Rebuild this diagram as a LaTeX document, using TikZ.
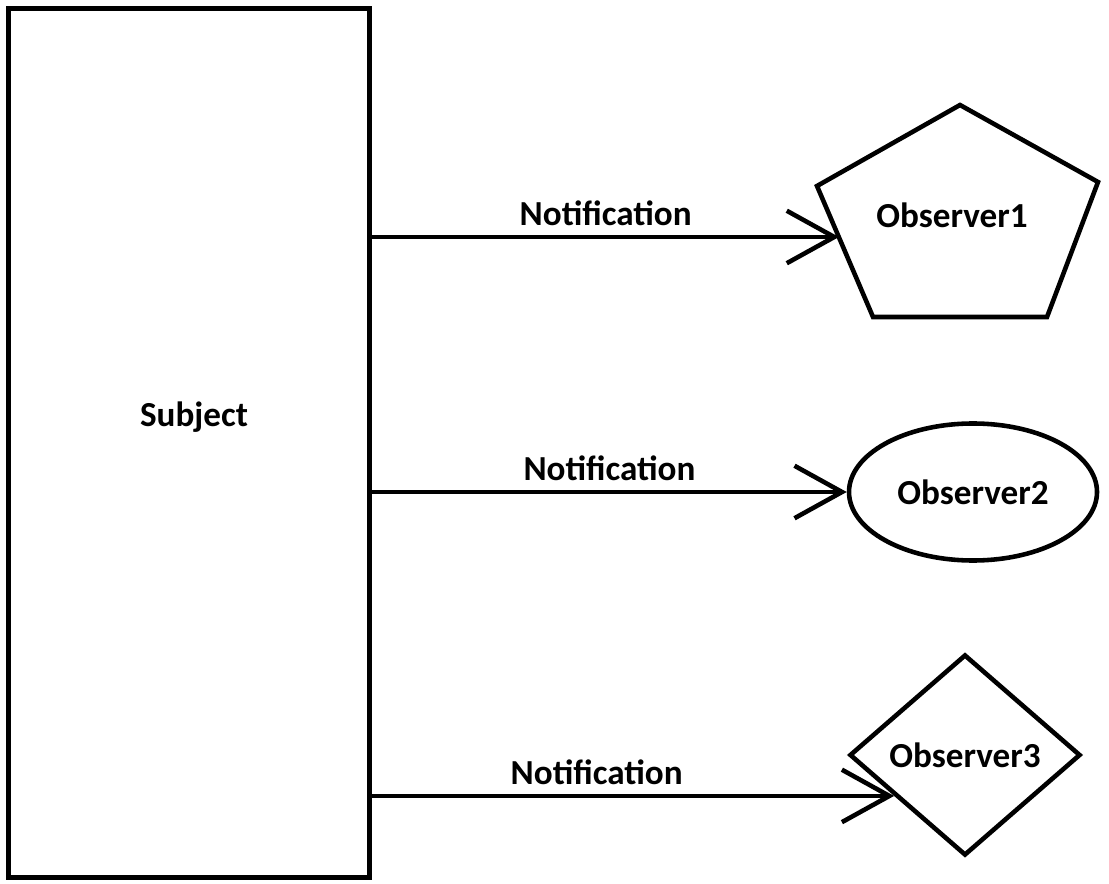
\documentclass[tikz,border=0pt]{standalone}
\usepackage{fontspec}
\setmainfont{Carlito}
\usetikzlibrary{arrows.meta,shapes.geometric}

\begin{document}
\begin{tikzpicture}[>={Straight Barb[length=0.95cm,width=1.05cm]},
  txt/.style={font=\bfseries\fontsize{20}{24}\selectfont},
  subj/.style={draw, line width=3.2pt, minimum width=7.22cm, minimum height=17.38cm},
  obs/.style={draw, line width=2.6pt, txt},
  arr/.style={->, line width=2.6pt},
  lbl/.style={above, yshift=0.06cm, txt}]
  \useasboundingbox (0,0) rectangle (22.18,17.66);
  \node[subj, label={[txt, xshift=0.1cm, yshift=0.52cm]center:Subject}] (s) at (3.78,8.8) {};
  % pentagon
  \coordinate (p1) at (19.2,15.56);
  \coordinate (p2) at (21.96,14.02);
  \coordinate (p3) at (20.94,11.32);
  \coordinate (p4) at (17.46,11.32);
  \coordinate (p5) at (16.34,13.94);
  \draw[line width=2.6pt] (p1) -- (p2) -- (p3) -- (p4) -- (p5) -- cycle;
  \node[txt] (o1) at (19.04,13.36) {Observer1};
  \coordinate (o1in) at (16.78,12.92);
  \node[obs, ellipse, minimum width=4.96cm, minimum height=2.74cm] (o2) at (19.46,7.82) {Observer2};
  \node[obs, diamond, minimum width=4.62cm, minimum height=4.02cm, inner sep=0pt] (o3) at (19.3,2.56) {Observer3};
  \draw[arr] (s.east |- o1in) -- node[lbl] {Notification} (o1in);
  \draw[arr] (s.east |- o2.west) -- node[lbl] {Notification} (o2.west);
  \draw[arr] (s.east |- o3.210) -- node[lbl, pos=0.43] {Notification} (o3.210);
\end{tikzpicture}
\end{document}
